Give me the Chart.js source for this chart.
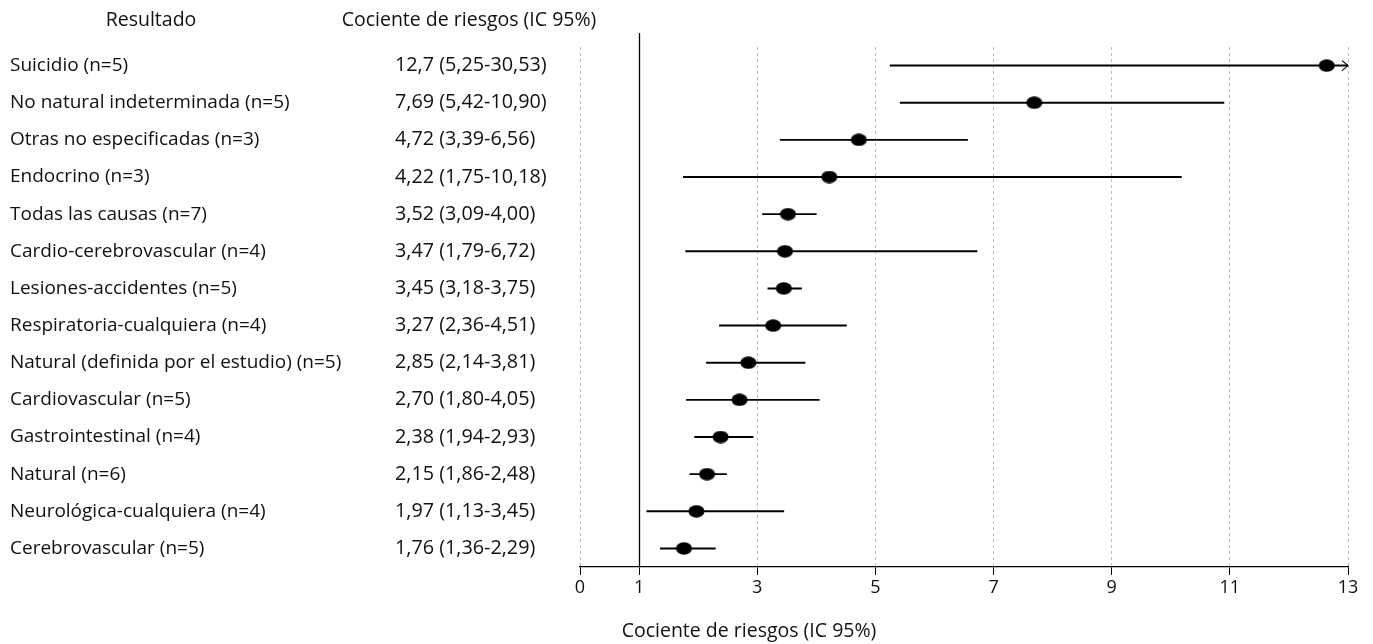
<!DOCTYPE html>
<html>
<head>
<meta charset="utf-8">
<script src="https://cdn.jsdelivr.net/npm/chart.js@4"></script>
<style>
  body { margin: 0; background: #fff; }
  #wrap { width: 1373px; height: 644px; }
</style>
</head>
<body>
<div id="wrap"><canvas id="forest"></canvas></div>
<script>
// Datos
var resultados = [
    'Suicidio (n=5)',
    'No natural indeterminada (n=5)',
    'Otras no especificadas (n=3)',
    'Endocrino (n=3)',
    'Todas las causas (n=7)',
    'Cardio-cerebrovascular (n=4)',
    'Lesiones-accidentes (n=5)',
    'Respiratoria-cualquiera (n=4)',
    'Natural (definida por el estudio) (n=5)',
    'Cardiovascular (n=5)',
    'Gastrointestinal (n=4)',
    'Natural (n=6)',
    'Neurológica-cualquiera (n=4)',
    'Cerebrovascular (n=5)'
];
var textoCociente = [
    '12,7 (5,25-30,53)', '7,69 (5,42-10,90)', '4,72 (3,39-6,56)', '4,22 (1,75-10,18)',
    '3,52 (3,09-4,00)', '3,47 (1,79-6,72)', '3,45 (3,18-3,75)', '3,27 (2,36-4,51)',
    '2,85 (2,14-3,81)', '2,70 (1,80-4,05)', '2,38 (1,94-2,93)', '2,15 (1,86-2,48)',
    '1,97 (1,13-3,45)', '1,76 (1,36-2,29)'
];
var cociente = [12.64, 7.69, 4.72, 4.22, 3.52, 3.47, 3.45, 3.27, 2.85, 2.70, 2.38, 2.15, 1.97, 1.76];
var icInf = [5.25, 5.42, 3.39, 1.75, 3.09, 1.79, 3.18, 2.36, 2.14, 1.80, 1.94, 1.86, 1.13, 1.36];
var icSup = [30.53, 10.90, 6.56, 10.18, 4.00, 6.72, 3.75, 4.51, 3.81, 4.05, 2.93, 2.48, 3.45, 2.29];
var ticksX = [0, 1, 3, 5, 7, 9, 11, 13];
var xMax = 13;

var fuente = '"Open Sans", Lato, sans-serif';

// punto elíptico
var punto = document.createElement('canvas');
punto.width = 17; punto.height = 13;
var pc = punto.getContext('2d');
pc.fillStyle = '#000';
pc.beginPath();
pc.ellipse(8.5, 6.5, 8, 6.2, 0, 0, Math.PI * 2);
pc.fill();

var textos = {
    id: 'textos',
    afterDraw: function(chart) {
        var ctx = chart.ctx;
        var xs = chart.scales.x, ys = chart.scales.y;
        var area = chart.chartArea;
        ctx.save();
        // línea vertical en 1
        var x1 = Math.round(xs.getPixelForValue(1)) + 0.5;
        ctx.strokeStyle = '#000';
        ctx.lineWidth = 1.3;
        ctx.beginPath();
        ctx.moveTo(x1, 33);
        ctx.lineTo(x1, area.bottom);
        ctx.stroke();

        ctx.fillStyle = '#111';
        ctx.font = '19.5px ' + fuente;
        ctx.textBaseline = 'middle';
        ctx.textAlign = 'center';
        ctx.fillText('Resultado', 151, 20);
        ctx.fillText('Cociente de riesgos (IC 95%)', 469, 20);
        ctx.fillText('Cociente de riesgos (IC 95%)', 749, 631);
        ctx.textAlign = 'left';
        resultados.forEach(function(r, i) {
            var y = ys.getPixelForValue(i);
            ctx.font = '19px ' + fuente;
            ctx.fillText(r, 10, y);
            ctx.font = '19.8px ' + fuente;
            ctx.fillText(textoCociente[i], 395, y);
            // flecha si el IC sale del eje
            if (icSup[i] > xMax) {
                var xa = xs.getPixelForValue(xMax);
                ctx.lineWidth = 1.1;
                ctx.beginPath();
                ctx.moveTo(xa - 6, y - 5);
                ctx.lineTo(xa, y);
                ctx.lineTo(xa - 6, y + 5);
                ctx.stroke();
            }
        });
        ctx.restore();
    }
};

new Chart(document.getElementById('forest'), {
    type: 'bar',
    data: {
        labels: resultados,
        datasets: [{
            type: 'bar',
            data: icInf.map(function(v, i) { return [v, Math.min(icSup[i], xMax)]; }),
            backgroundColor: '#000',
            barThickness: 1.3,
            order: 2
        }, {
            type: 'line',
            data: cociente.map(function(v, i) { return { x: v, y: resultados[i] }; }),
            showLine: false,
            pointStyle: punto,
            pointRadius: 8,
            order: 1
        }]
    },
    options: {
        indexAxis: 'y',
        responsive: true,
        maintainAspectRatio: false,
        animation: false,
        layout: { padding: { left: 580, right: 25, top: 47, bottom: 0 } },
        plugins: { legend: { display: false }, tooltip: { enabled: false } },
        scales: {
            y: { type: 'category', display: false },
            x: {
                type: 'linear',
                min: 0,
                max: xMax,
                afterBuildTicks: function(scale) {
                    scale.ticks = ticksX.map(function(v) { return { value: v }; });
                },
                afterFit: function(scale) { scale.height = 77; },
                grid: {
                    color: function(c) { return c.tick && c.tick.value === 1 ? 'rgba(0,0,0,0)' : '#bdbdbd'; },
                    lineWidth: 1,
                    tickColor: '#000',
                    tickLength: 8,
                    tickBorderDash: []
                },
                border: { display: true, color: '#000', width: 1.3, dash: [3, 3] },
                ticks: {
                    color: '#111',
                    font: { family: fuente, size: 18 },
                    padding: 2,
                    maxRotation: 0,
                    autoSkip: false
                }
            }
        }
    },
    plugins: [textos]
});
</script>
</body>
</html>
